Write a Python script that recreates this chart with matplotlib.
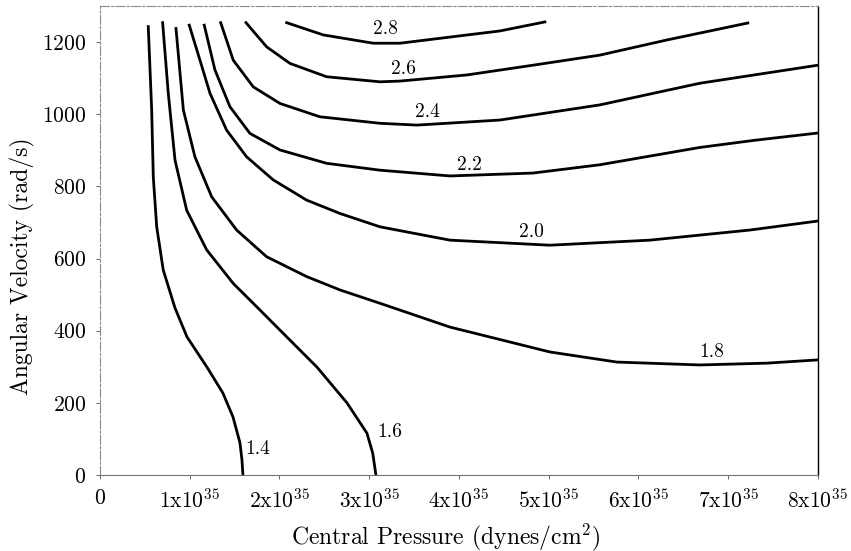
import numpy as np
import matplotlib.pyplot as plt

plt.rcParams['font.family'] = ['cmr10', 'DejaVu Serif']
plt.rcParams['mathtext.fontset'] = 'cm'
plt.rcParams['axes.formatter.use_mathtext'] = True

# central pressure in units of 1e35 dynes/cm^2, angular velocity in rad/s
p14 = [0.538, 0.576, 0.594, 0.632, 0.705, 0.836, 0.969, 1.192, 1.370, 1.482, 1.560, 1.582, 1.593]
w14 = [1243, 1012, 826, 688, 568, 463, 383, 299, 227, 161, 89, 42, 0]

p16 = [0.698, 0.761, 0.836, 0.966, 1.189, 1.485, 1.764, 1.972, 2.418, 2.752, 2.975, 3.040, 3.075]
w16 = [1254, 1058, 873, 734, 624, 531, 462, 410, 299, 200, 116, 60, 0]

p18 = [0.847, 0.929, 1.058, 1.245, 1.523, 1.857, 2.303, 2.674, 3.120, 3.900,
       5.014, 5.760, 6.685, 7.432, 8.0]
w18 = [1238, 1012, 882, 771, 679, 605, 550, 513, 476, 410,
       341, 313, 305, 310, 319]

p20 = [0.995, 1.114, 1.226, 1.411, 1.634, 1.931, 2.303, 2.674, 3.120, 3.900,
       5.014, 6.128, 7.242, 8.0]
w20 = [1247, 1150, 1058, 956, 882, 818, 762, 725, 688, 651,
       637, 651, 679, 704]

p22 = [1.162, 1.281, 1.448, 1.671, 2.006, 2.526, 3.120, 3.900, 4.825, 5.571,
       6.685, 7.300, 8.0]
w22 = [1247, 1123, 1021, 947, 901, 864, 845, 829, 837, 860,
       908, 928, 948]

p24 = [1.345, 1.485, 1.708, 2.006, 2.451, 3.120, 3.532, 4.457, 5.571, 6.685, 8.0]
w24 = [1254, 1150, 1076, 1030, 993, 975, 970, 984, 1026, 1086, 1136]

p26 = [1.627, 1.857, 2.117, 2.526, 3.120, 3.343, 4.089, 4.825, 5.571, 6.318, 7.220]
w26 = [1254, 1187, 1141, 1104, 1090, 1092, 1109, 1136, 1164, 1206, 1253]

p28 = [2.080, 2.488, 3.045, 3.343, 3.900, 4.457, 4.958]
w28 = [1254, 1220, 1197, 1197, 1214, 1231, 1256]

curves = [(p14, w14), (p16, w16), (p18, w18), (p20, w20),
          (p22, w22), (p24, w24), (p26, w26), (p28, w28)]
labels = ['1.4', '1.6', '1.8', '2.0', '2.2', '2.4', '2.6', '2.8']
label_p = [1.76, 3.23, 6.82, 4.81, 4.12, 3.65, 3.38, 3.18]
label_w = [72, 119, 341, 673, 859, 1006, 1125, 1236]

fig = plt.figure(figsize=(8.51, 5.51), dpi=100)
ax = fig.add_axes([0.1175, 0.138, 0.8435, 0.851])

for (p, w) in curves:
    ax.plot(p, w, color='black', lw=2.0, solid_joinstyle='round')
for lab, x, y in zip(labels, label_p, label_w):
    ax.text(x, y, lab, fontsize=14, ha='center', va='center')

ax.set_xlim(0, 8)
ax.set_ylim(0, 1300)
ax.set_xticks(range(9))
ax.set_xticklabels(['0'] + [r'%dx10$^{35}$' % i for i in range(1, 9)])
ax.set_yticks(range(0, 1201, 200))
ax.tick_params(labelsize=15.5, length=3, width=0.7, color='0.4', pad=7)

fig.text(446 / 851, 1 - 537 / 551, r'Central Pressure (dynes/cm$^2$)',
         fontsize=17, ha='center', va='center')
fig.text(22 / 851, 1 - 266 / 551, 'Angular Velocity (rad/s)', fontsize=17,
         ha='center', va='center', rotation=90, rotation_mode='anchor')

for s in ['top', 'left']:
    ax.spines[s].set_color('0.55')
    ax.spines[s].set_linewidth(0.8)
    ax.spines[s].set_linestyle((0, (8, 2, 2, 2)))
ax.spines['bottom'].set_color('0.45')
ax.spines['bottom'].set_linewidth(0.8)
ax.spines['right'].set_color('black')
ax.spines['right'].set_linewidth(1.0)

fig.savefig('out.png', dpi=100)
